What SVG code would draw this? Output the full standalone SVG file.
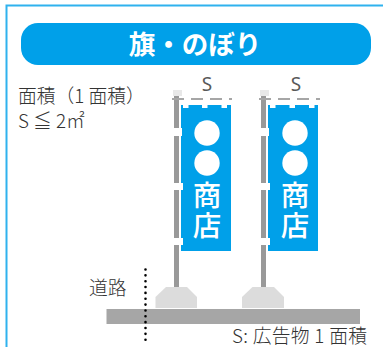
<svg xmlns="http://www.w3.org/2000/svg" width="383" height="347" viewBox="0 0 383 347">
<style>
text{font-family:"Noto Sans CJK JP","Noto Sans",sans-serif}
.lbl{font-size:18.800px;fill:#333;font-weight:300}
.s{font-size:19px;fill:#595959;font-family:"Noto Sans",sans-serif;text-anchor:middle}
.shop{font-size:28.500px;fill:#fff;text-anchor:middle;font-weight:500}
.w{fill:#fff}
.pole{fill:#999}
.cap{fill:#e8e8e8}
.base{fill:#dcdcdc}
.banner{fill:#00a0e9}
.dash{stroke:#a6a6a6;stroke-width:2;stroke-dasharray:12 7;fill:none}
</style>
<rect width="383" height="347" fill="#fff"/>
<path d="M6.500 347V5.500H383" fill="none" stroke="#2fb2ee" stroke-width="2"/>
<g id="title"><rect x="21" y="23" width="350" height="42" rx="17" fill="#00a0e9"/>
<text x="195" y="54" font-size="26.500" font-weight="700" fill="#fff" text-anchor="middle">旗・のぼり</text></g>
<g id="area-label"><text class="lbl" x="18" y="103">面積（1 面積）</text>
<text class="lbl" x="18" y="128">S ≦ 2㎡</text></g>
<g id="road"><rect x="106.500" y="309" width="253.500" height="15" fill="#a6a6a6"/>
<text class="lbl" x="89" y="295">道路</text>
<line x1="145.500" y1="269.500" x2="145.500" y2="343" stroke="#000" stroke-width="2.600" stroke-linecap="round" stroke-dasharray="0 5.850"/></g>
<g id="flag-1">
<text class="s" x="207" y="91">S</text>
<path class="base" d="M155.500 308V297L166 287H187L197 297V308Z"/>
<rect class="pole" x="174" y="95" width="5" height="192"/>
<rect class="cap" x="173" y="90" width="9" height="6"/>
<line class="dash" x1="172" y1="99" x2="232" y2="99"/>
<rect class="banner" x="181" y="105" width="50" height="146"/>
<path class="w" d="M183 105h5.500v3h-5.500zM202 105h5.500v3h-5.500zM221.500 105h5.500v3h-5.500z"/>
<path class="w" d="M174 128h8v8h-8zM174 183h9v7h-9zM174 238h9v7h-9z"/>
<circle class="w" cx="207" cy="133" r="12.700"/><circle class="w" cx="207" cy="163" r="12.700"/>
<text class="shop" x="207" y="205.500">商</text><text class="shop" x="207" y="235.500">店</text>
</g>
<g id="flag-2">
<text class="s" x="296" y="91">S</text>
<path class="base" d="M242 308V297L252.500 287H274L284 297V308Z"/>
<rect class="pole" x="261" y="95" width="5" height="192"/>
<rect class="cap" x="260" y="90" width="9" height="6"/>
<line class="dash" x1="259" y1="99" x2="320" y2="99"/>
<rect class="banner" x="268" y="105" width="50" height="146"/>
<path class="w" d="M270 105h5.500v3h-5.500zM289.500 105h5.500v3h-5.500zM309 105h5.500v3h-5.500z"/>
<path class="w" d="M261 128h8v8h-8zM261 183h9v7h-9zM261 238h9v7h-9z"/>
<circle class="w" cx="295" cy="133" r="12.700"/><circle class="w" cx="295" cy="163" r="12.700"/>
<text class="shop" x="295" y="205.500">商</text><text class="shop" x="295" y="235.500">店</text>
</g>
<text class="lbl" x="232" y="343" textLength="135">S: 広告物 1 面積</text>
</svg>
